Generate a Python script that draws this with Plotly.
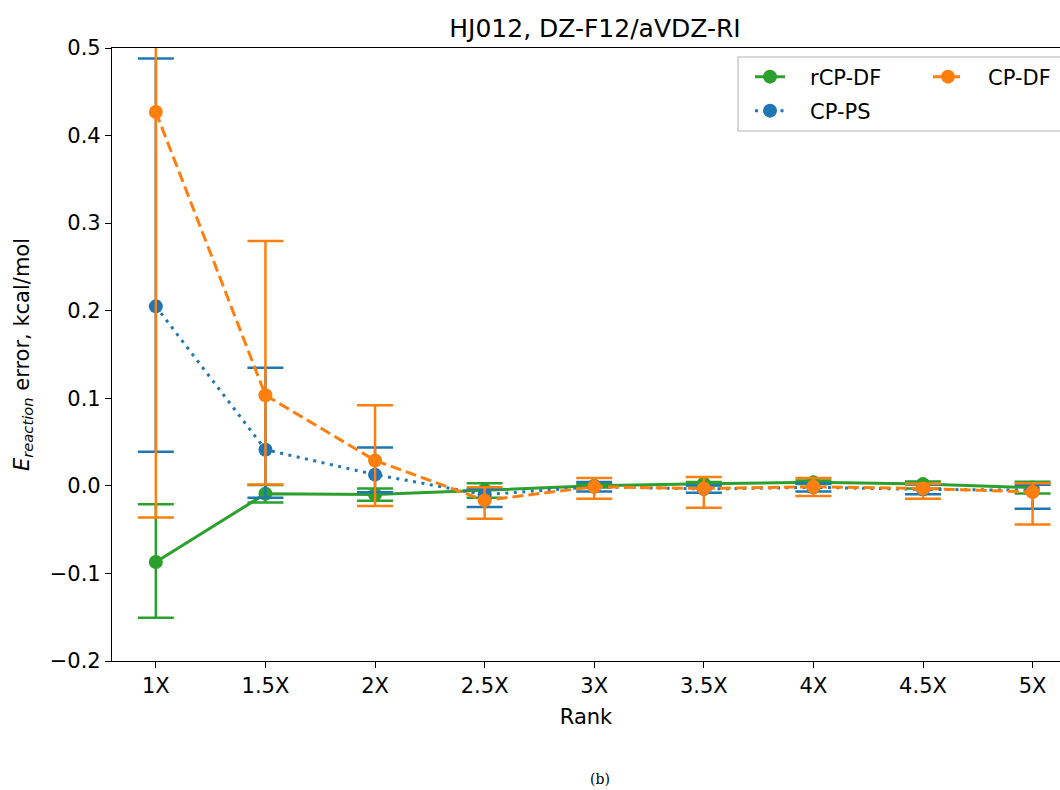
import plotly.graph_objects as go

ranks = ["1X", "1.5X", "2X", "2.5X", "3X", "3.5X", "4X", "4.5X", "5X"]

# rCP-DF (green, solid)
rcpdf = [-0.087, -0.009, -0.010, -0.005, 0.000, 0.0025, 0.004, 0.002, -0.002]
rcpdf_plus = [0.066, 0.010, 0.007, 0.008, 0.002, 0.002, 0.002, 0.003, 0.0066]
rcpdf_minus = [0.0635, 0.010, 0.007, 0.0085, 0.002, 0.002, 0.002, 0.005, 0.0067]

# CP-PS (blue, dotted)
cpps = [0.205, 0.0413, 0.0128, -0.010, -0.001, -0.0036, -0.0017, -0.004, -0.005]
cpps_plus = [0.283, 0.0935, 0.031, 0.0068, 0.0054, 0.0042, 0.0047, 0.0055, 0.0063]
cpps_minus = [0.166, 0.055, 0.020, 0.0142, 0.0054, 0.0042, 0.0047, 0.0055, 0.021]

# CP-DF (orange, dashed)
cpdf = [0.427, 0.1035, 0.029, -0.0166, -0.001, -0.003, -0.001, -0.003, -0.007]
cpdf_plus = [0.463, 0.176, 0.063, 0.015, 0.010, 0.013, 0.010, 0.0055, 0.010]
cpdf_minus = [0.463, 0.102, 0.052, 0.021, 0.0137, 0.022, 0.0106, 0.0117, 0.037]

GREEN = "#2ca02c"
BLUE = "#1f77b4"
ORANGE = "#ff7f0e"
FONT = "DejaVu Sans"
NB = "\u00a0\u00a0\u00a0"

W, H = 1060, 790
L, R, T, B = 112, 0, 48, 129
PW, PH = W - L - R, H - T - B


def px_x(p):
    return (p - L) / PW


def px_y(p):
    return (H - B - p) / PH


def trace(name, y, plus, minus, color, dash, legend, rank):
    return go.Scatter(
        x=ranks, y=y, name=NB + name, mode="lines+markers",
        line=dict(color=color, width=3, dash=dash),
        marker=dict(color=color, size=14),
        error_y=dict(type="data", symmetric=False, array=plus, arrayminus=minus,
                     color=color, thickness=2.5, width=18),
        legend=legend, legendrank=rank, showlegend=True,
    )


fig = go.Figure()
fig.add_trace(trace("rCP-DF", rcpdf, rcpdf_plus, rcpdf_minus, GREEN, "solid", "legend", 1))
fig.add_trace(trace("CP-PS", cpps, cpps_plus, cpps_minus, BLUE, "3px,5.5px", "legend3", 2))
fig.add_trace(trace("CP-DF", cpdf, cpdf_plus, cpdf_minus, ORANGE, "11px,5px", "legend2", 3))

leg_common = dict(font=dict(family=FONT, size=21, color="black"), bgcolor="rgba(0,0,0,0)",
                  borderwidth=0, xanchor="left", yanchor="middle", itemwidth=30)

fig.update_layout(
    width=W, height=H, showlegend=True,
    margin=dict(l=L, r=R, t=T, b=B, autoexpand=False),
    paper_bgcolor="white", plot_bgcolor="white",
    font=dict(family=FONT, size=21, color="black"),
    title=dict(text="HJ012, DZ-F12/aVDZ-RI", x=595 / W, xanchor="center",
               y=1 - 28 / H, yanchor="middle", yref="container",
               font=dict(family=FONT, size=25, color="black")),
    xaxis=dict(type="category", range=[-0.4, 8.25], showline=True, linecolor="black",
               linewidth=1.2, mirror=True, ticks="outside", ticklen=6, tickwidth=1.2,
               tickcolor="black", showgrid=False, zeroline=False,
               tickfont=dict(family=FONT, size=21),
               title=dict(text="Rank", font=dict(family=FONT, size=21), standoff=12)),
    yaxis=dict(range=[-0.2, 0.5], dtick=0.1, tick0=0, tickformat=".1f", showline=True,
               linecolor="black", linewidth=1.2, ticks="outside", ticklen=6, tickwidth=1.2,
               tickcolor="black", showgrid=False, zeroline=False,
               tickfont=dict(family=FONT, size=21),
               title=dict(text="<i>E</i><sub><i>reaction</i></sub> error, kcal/mol",
                          font=dict(family=FONT, size=21), standoff=14)),
    legend=dict(x=px_x(750), y=px_y(77), **leg_common),
    legend2=dict(x=px_x(928), y=px_y(77), **leg_common),
    legend3=dict(x=px_x(750), y=px_y(111), **leg_common),
    shapes=[dict(type="rect", xref="paper", yref="paper",
                 x0=px_x(738), x1=px_x(1075), y0=px_y(131), y1=px_y(57),
                 line=dict(color="#cccccc", width=1.5), fillcolor="rgba(255,255,255,0.8)",
                 layer="above")],
    annotations=[dict(text="(b)", xref="paper", yref="paper", x=px_x(600), y=px_y(779),
                      xanchor="center", yanchor="middle", showarrow=False,
                      font=dict(family="DejaVu Serif", size=14, color="black"))],
)

fig.write_html("out.html", config={"displayModeBar": False},
               post_script="document.body.style.margin='0';document.body.style.padding='0';")
